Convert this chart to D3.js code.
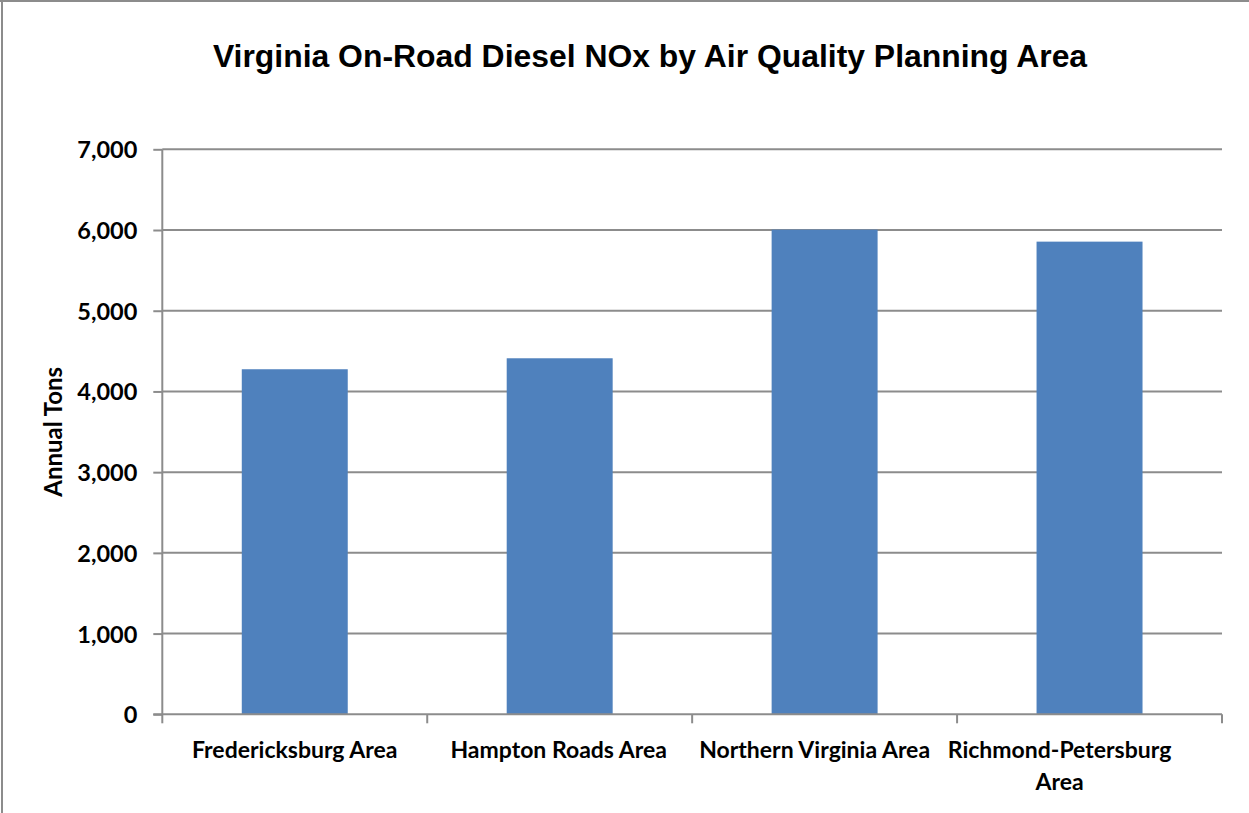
<!DOCTYPE html>
<html>
<head>
<meta charset="utf-8">
<script src="https://cdn.jsdelivr.net/npm/d3@7"></script>
<style>
  html, body { margin: 0; padding: 0; background: #fff; }
  svg { display: block; }
</style>
</head>
<body>
<svg id="chart" width="1249" height="813"></svg>
<script>
const title = "Virginia On-Road Diesel NOx by Air Quality Planning Area";
const yAxisTitle = "Annual Tons";
const categories = ["Fredericksburg Area", "Hampton Roads Area", "Northern Virginia Area", "Richmond-Petersburg Area"];
const values = [4275, 4411, 6005, 5856];
const yTicks = [0, 1000, 2000, 3000, 4000, 5000, 6000, 7000];

const W = 1249, H = 813;
const margin = { left: 162.3, right: W - 1222, top: 149.3, bottom: H - 714.3 };
const labelFont = "Lato, 'Open Sans', sans-serif";
const gridColor = "#8c8c8c";

const svg = d3.select("#chart");
svg.append("rect").attr("width", W).attr("height", H).attr("fill", "#fff");

// outer frame (top + left visible)
svg.append("line").attr("x1", 0).attr("x2", W).attr("y1", 1).attr("y2", 1)
  .attr("stroke", gridColor).attr("stroke-width", 2);
svg.append("line").attr("x1", 2).attr("x2", 2).attr("y1", 0).attr("y2", H)
  .attr("stroke", gridColor).attr("stroke-width", 2);

const x = d3.scaleBand().domain(categories)
  .range([margin.left, W - margin.right]).padding(0);
const y = d3.scaleLinear().domain([0, 7000]).range([H - margin.bottom, margin.top]);

// title
svg.append("text")
  .attr("x", 650).attr("y", 67)
  .attr("text-anchor", "middle")
  .attr("font-family", "'Liberation Sans', Arial, sans-serif")
  .attr("font-weight", "bold")
  .attr("font-size", 31.9)
  .attr("fill", "#000")
  .text(title);

// gridlines
svg.append("g").selectAll("line").data(yTicks.filter(d => d > 0)).join("line")
  .attr("x1", margin.left).attr("x2", W - margin.right)
  .attr("y1", d => y(d)).attr("y2", d => y(d))
  .attr("stroke", gridColor).attr("stroke-width", 2);

// y axis
const yAxis = d3.axisLeft(y).tickValues(yTicks).tickSize(9).tickPadding(16)
  .tickFormat(d3.format(","));
const yg = svg.append("g").attr("transform", `translate(${margin.left},0)`).call(yAxis);
yg.select(".domain").attr("stroke", gridColor).attr("stroke-width", 2)
  .attr("d", `M0,${y(7000)}V${y(0)}`);
yg.selectAll(".tick line").attr("stroke", gridColor).attr("stroke-width", 2);
yg.selectAll(".tick text")
  .attr("font-family", labelFont).attr("font-weight", "bold")
  .attr("font-size", 23.5).attr("fill", "#000").attr("dy", "0.36em");

// bars
const barW = x.bandwidth() / 2.5;
svg.append("g").selectAll("rect").data(values).join("rect")
  .attr("x", (d, i) => x(categories[i]) + (x.bandwidth() - barW) / 2)
  .attr("width", barW)
  .attr("y", d => y(d))
  .attr("height", d => y(0) - y(d))
  .attr("fill", "#4f81bd");

// x axis
const xg = svg.append("g").attr("transform", `translate(0,${y(0)})`);
xg.append("line").attr("x1", margin.left - 9).attr("x2", W - margin.right)
  .attr("y1", 0).attr("y2", 0).attr("stroke", gridColor).attr("stroke-width", 2);
const boundaries = categories.map(c => x(c)).concat([x(categories[categories.length - 1]) + x.bandwidth()]);
xg.selectAll("line.tk").data(boundaries).join("line").attr("class", "tk")
  .attr("x1", d => d).attr("x2", d => d).attr("y1", 0).attr("y2", 9)
  .attr("stroke", gridColor).attr("stroke-width", 2);

// Excel nudges the last labels slightly left
const labelNudge = [0, -1, -10, -30];
const lbl = xg.selectAll("text.cat").data(categories).join("text").attr("class", "cat")
  .attr("text-anchor", "middle")
  .attr("font-family", labelFont).attr("font-weight", "bold")
  .attr("font-size", 23).attr("fill", "#000");

lbl.each(function(d, k) {
  const t = d3.select(this);
  const cx = x(d) + x.bandwidth() / 2 + labelNudge[k];
  const words = d.split(" ");
  let lines = [], cur = [];
  const probe = t.append("tspan");
  words.forEach(w => {
    const test = cur.concat([w]).join(" ");
    probe.text(test);
    if (cur.length && probe.node().getComputedTextLength() > x.bandwidth() - 6) {
      lines.push(cur.join(" "));
      cur = [w];
    } else cur.push(w);
  });
  lines.push(cur.join(" "));
  probe.remove();
  lines.forEach((ln, i) => {
    t.append("tspan").attr("x", cx).attr("y", 44 + i * 32).text(ln);
  });
});

// y axis title
svg.append("text")
  .attr("transform", `translate(62,${(y(0) + y(7000)) / 2}) rotate(-90)`)
  .attr("text-anchor", "middle")
  .attr("font-family", labelFont).attr("font-weight", "bold")
  .attr("font-size", 24).attr("fill", "#000")
  .text(yAxisTitle);
</script>
</body>
</html>
